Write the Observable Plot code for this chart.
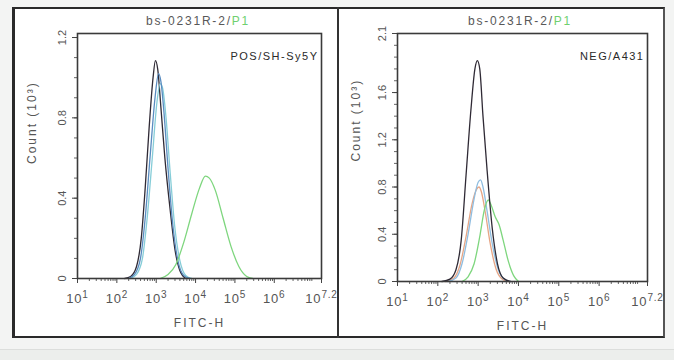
<!DOCTYPE html>
<html>
<head>
<meta charset="utf-8">
<script src="https://cdn.jsdelivr.net/npm/d3@7"></script>
<script src="https://cdn.jsdelivr.net/npm/@observablehq/plot@0.6"></script>
<style>
  html, body { margin:0; padding:0; }
  body { width:674px; height:360px; position:relative; overflow:hidden; background:#f3f4f3; font-family:"Liberation Sans", Arial, sans-serif; }
  #box { position:absolute; left:12px; top:7px; width:653px; height:331px; box-sizing:border-box; border:2px solid #2a2a2a; border-left-width:3px; border-right-color:#555; background:#fff; }
  #divider { position:absolute; left:337px; top:7px; width:2px; height:331px; background:#333; }
  #sep { position:absolute; left:0; top:349px; width:674px; height:11px; background:#eceeec; border-top:1px solid #dcdedc; }
  .title { position:absolute; top:14px; width:240px; text-align:center; font-size:12px; letter-spacing:1.8px; color:#585858; white-space:nowrap; }
  .title .g { color:#6fd06f; }
  .panel { position:absolute; top:9px; }
</style>
</head>
<body>
<div id="box"></div>
<div id="divider"></div>
<div id="sep"></div>
<div class="title" id="t1" style="left:78px"></div>
<div class="title" id="t2" style="left:400px"></div>
<div class="panel" id="p1" style="left:14px"></div>
<div class="panel" id="p2" style="left:340px"></div>
<script>
// ---- Text ----
const titleMain = "bs-0231R-2/";
const titleGate = "P1";
const xLabel = "FITC-H";
const yLabel = "Count (10³)";
const posLabel = "POS/SH-Sy5Y";
const negLabel = "NEG/A431";

// ---- X ticks (log10 of FITC-H) ----
const xTicks = [1, 2, 3, 4, 5, 6, 7.2];
const xTickLabels = ["10^1", "10^2", "10^3", "10^4", "10^5", "10^6", "10^7.2"];

// ---- Y ticks (count, 10^3) ----
const yTicksPos = [0, 0.4, 0.8, 1.2];
const yTicksNeg = [0, 0.4, 0.8, 1.2, 1.6, 2.1];

// ---- Left panel: POS / SH-Sy5Y (x = log10 FITC-H, y = count x10^3) ----
const posBlackX = [2.2, 2.35, 2.5, 2.62, 2.72, 2.82, 2.92, 2.98, 3.04, 3.12, 3.22, 3.35, 3.48, 3.6, 3.75];
const posBlackY = [0, 0.01, 0.06, 0.2, 0.45, 0.75, 1.0, 1.085, 1.04, 0.85, 0.6, 0.35, 0.14, 0.04, 0];
const posBlueX  = [2.3, 2.45, 2.6, 2.72, 2.85, 2.97, 3.06, 3.12, 3.2, 3.3, 3.42, 3.55, 3.7, 3.85];
const posBlueY  = [0, 0.02, 0.1, 0.3, 0.62, 0.9, 1.02, 0.98, 0.82, 0.55, 0.27, 0.09, 0.015, 0];
const posCyanX  = [2.35, 2.5, 2.65, 2.77, 2.9, 3.02, 3.1, 3.16, 3.25, 3.35, 3.47, 3.6, 3.75, 3.9];
const posCyanY  = [0, 0.02, 0.1, 0.3, 0.6, 0.88, 0.97, 0.95, 0.8, 0.54, 0.26, 0.09, 0.015, 0];
const posGreenX = [3.1, 3.3, 3.5, 3.7, 3.9, 4.1, 4.25, 4.35, 4.5, 4.7, 4.9, 5.1, 5.3, 5.45];
const posGreenY = [0, 0.02, 0.07, 0.18, 0.32, 0.45, 0.51, 0.5, 0.44, 0.3, 0.16, 0.06, 0.01, 0];

// ---- Right panel: NEG / A431 ----
const negBlackX = [2.1, 2.3, 2.45, 2.58, 2.7, 2.82, 2.92, 2.98, 3.04, 3.12, 3.22, 3.35, 3.48, 3.62, 3.8];
const negBlackY = [0, 0.02, 0.1, 0.35, 0.9, 1.45, 1.8, 1.87, 1.8, 1.4, 0.95, 0.45, 0.15, 0.03, 0];
const negOrangeX = [2.2, 2.4, 2.55, 2.7, 2.85, 2.96, 3.02, 3.08, 3.18, 3.3, 3.45, 3.6, 3.75];
const negOrangeY = [0, 0.03, 0.14, 0.38, 0.66, 0.78, 0.8, 0.76, 0.58, 0.32, 0.1, 0.02, 0];
const negBlueX  = [2.25, 2.45, 2.6, 2.75, 2.9, 3.0, 3.06, 3.12, 3.22, 3.35, 3.5, 3.65, 3.8];
const negBlueY  = [0, 0.03, 0.15, 0.4, 0.7, 0.84, 0.86, 0.8, 0.6, 0.32, 0.1, 0.02, 0];
const negGreenX = [2.6, 2.75, 2.9, 3.05, 3.15, 3.25, 3.33, 3.42, 3.52, 3.62, 3.75, 3.88, 4.0];
const negGreenY = [0, 0.04, 0.15, 0.4, 0.6, 0.69, 0.64, 0.55, 0.48, 0.35, 0.17, 0.05, 0];

const colors = { k:"#2f2a35", b:"#5a8cc0", c:"#86cdd8", g:"#7ed67e", o:"#e6a585", lb:"#8fbde0" };

function rows(name, xs, ys) { return xs.map((x, i) => ({series:name, x, y: ys[i]})); }

const posData = [
  ...rows("k", posBlackX, posBlackY),
  ...rows("c", posCyanX, posCyanY),
  ...rows("b", posBlueX, posBlueY),
  ...rows("g", posGreenX, posGreenY)
];
const negData = [
  ...rows("o", negOrangeX, negOrangeY),
  ...rows("lb", negBlueX, negBlueY),
  ...rows("g", negGreenX, negGreenY),
  ...rows("k", negBlackX, negBlackY)
];

document.getElementById("t1").innerHTML = titleMain + '<span class="g">' + titleGate + '</span>';
document.getElementById("t2").innerHTML = titleMain + '<span class="g">' + titleGate + '</span>';

const xLabelMap = new Map(xTicks.map((t, i) => [t, xTickLabels[i]]));
const xMinor = d3.range(1, 7).flatMap(e => d3.range(2, 10).map(m => e + Math.log10(m))).filter(v => v < 7.2);

function panel(data, yMax, yTicks, mLeft, mBottom, yLab, note) {
  const yMinor = d3.range(0, Math.round(yMax * 10) + 1).map(v => v / 10);
  const svg = Plot.plot({
    width: 324, height: 326,
    marginLeft: mLeft, marginRight: 17, marginTop: 24, marginBottom: mBottom,
    x: { domain: [1, 7.2] },
    y: { domain: [0, yMax] },
    style: { fontFamily: "Liberation Sans, Arial, sans-serif", fontSize: "11px", color: "#555", background: "transparent" },
    marks: [
      Plot.axisX({ ticks: xMinor, tickSize: 3, tickFormat: () => "", label: null, stroke: "#666" }),
      Plot.axisX({ ticks: xTicks, tickSize: 5, tickPadding: 10, tickFormat: d => xLabelMap.get(d), label: null, fontSize: 13, stroke: "#444" }),
      Plot.axisY({ ticks: yMinor, tickSize: 3, tickFormat: () => "", label: null, stroke: "#666" }),
      Plot.axisY({ ticks: yTicks, tickSize: 5, tickPadding: 7, tickRotate: -90, tickFormat: d => String(d), label: null, stroke: "#444" }),
      Plot.line(data, { x: "x", y: "y", z: "series", stroke: d => colors[d.series], curve: "monotone-x", strokeWidth: 1.3 }),
      Plot.frame({ stroke: "#3a3a3a", strokeWidth: 1.6 }),
      Plot.text([note], { frameAnchor: "top-right", text: d => d, dx: -3, dy: 19, fontSize: 11, fill: "#2a2a2a", textAnchor: "end" }),
      Plot.text([xLabel], { frameAnchor: "bottom", text: d => d, dy: 48, fontSize: 12, fill: "#555" }),
      Plot.text([yLab.text], { frameAnchor: "left", text: d => d, dx: yLab.dx, dy: yLab.dy, rotate: -90, fontSize: 12, fill: "#555" })
    ]
  });
  const spacing = new Map([[xLabel, "2px"], [yLabel, "2px"], [note, "1.5px"]]);
  svg.querySelectorAll("text").forEach(t => {
    const s = t.textContent;
    if (spacing.has(s)) t.style.letterSpacing = spacing.get(s);
    if (!s.includes("^")) return;
    // render "10^n" tick labels with a raised exponent
    const [base, exp] = s.split("^");
    t.textContent = "";
    t.style.letterSpacing = "0.8px";
    const b = document.createElementNS("http://www.w3.org/2000/svg", "tspan");
    b.textContent = base;
    const e = document.createElementNS("http://www.w3.org/2000/svg", "tspan");
    e.textContent = exp;
    e.setAttribute("font-size", "10");
    e.setAttribute("dy", "-0.45em");
    t.append(b, e);
  });
  return svg;
}

document.getElementById("p1").append(panel(posData, 1.22, yTicksPos, 63, 57, { text: yLabel, dx: -45, dy: 8 }, posLabel));
document.getElementById("p2").append(panel(negData, 2.1, yTicksNeg, 57, 54, { text: yLabel, dx: -41, dy: 4 }, negLabel));
</script>
</body>
</html>
